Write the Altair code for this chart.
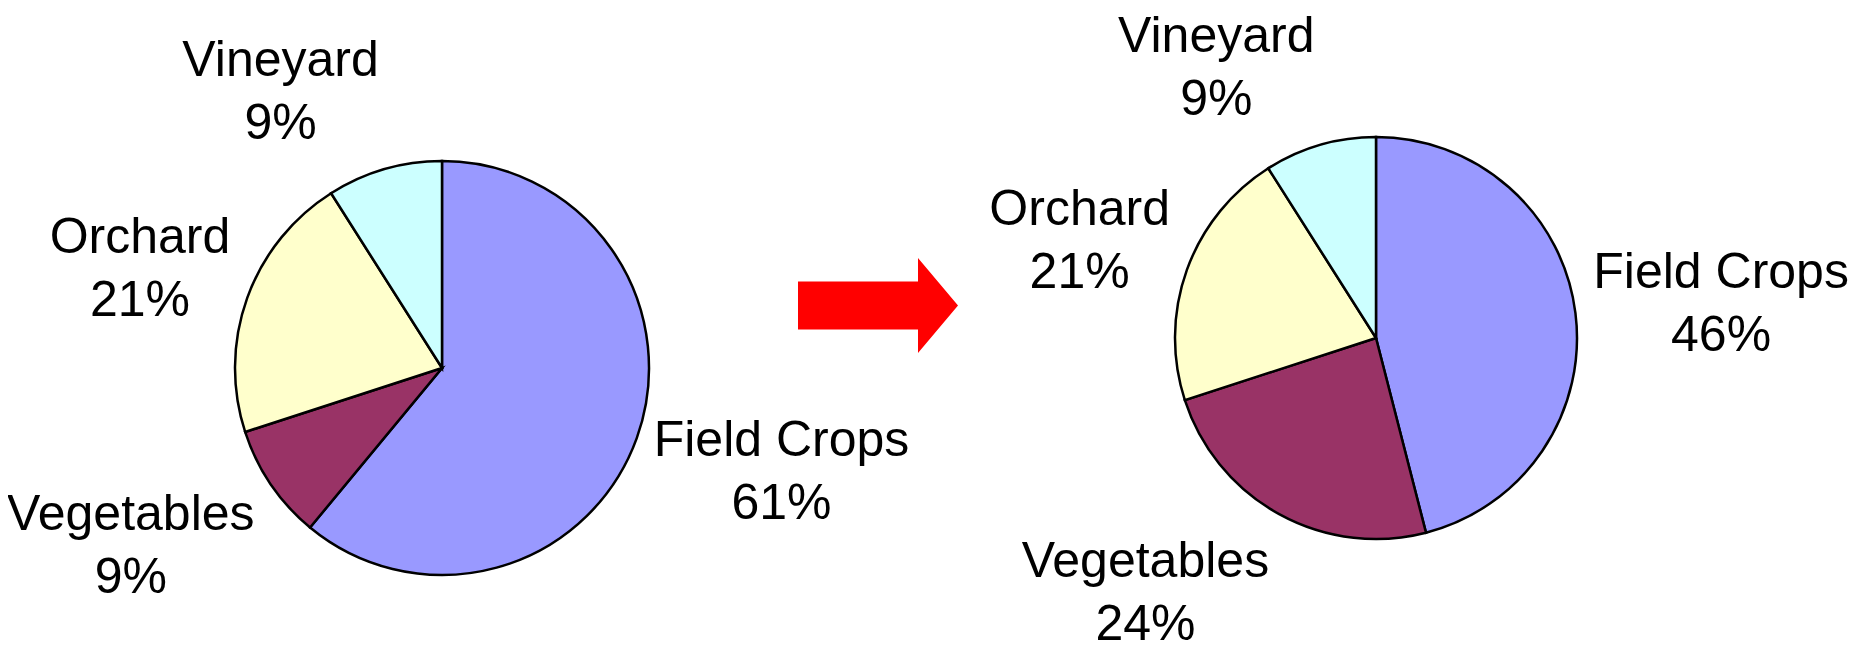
import math
import altair as alt
import pandas as pd

# ---- data ----
categories = ["Field Crops", "Vegetables", "Orchard", "Vineyard"]
before_values = [61, 9, 21, 9]
after_values = [46, 24, 21, 9]
colors = ["#9999FF", "#993366", "#FFFFCC", "#CCFFFF"]

# ---- layout (pixels inside the plot area) ----
PIES = {
    "before": dict(cx=434, cy=360, r=207),
    "after": dict(cx=1368, cy=330, r=201),
}
GAP = 18
EXTRA_V = 13
FONT = "Liberation Sans"
FONT_SIZE = 50
LINE_H = 63
CAP = 0.716 * FONT_SIZE
BLOCK_H = LINE_H + CAP
ARROW = "M -1 -0.3 L 0.5 -0.3 L 0.5 -0.594 L 1 0 L 0.5 0.594 L 0.5 0.3 L -1 0.3 Z"

# Arial / Liberation Sans advance widths (per 1000 em) to size label blocks
W = {" ": 278, "%": 889, "F": 611, "C": 722, "O": 778, "V": 667, "a": 556,
     "b": 556, "c": 500, "d": 556, "e": 556, "g": 556, "h": 556, "i": 222,
     "l": 222, "n": 556, "o": 556, "p": 556, "r": 333, "s": 500, "t": 278,
     "y": 500}


def text_w(s):
    return sum(W.get(ch, 556) for ch in s) / 1000 * FONT_SIZE


rows = []
for pie, vals in (("before", before_values), ("after", after_values)):
    cum = 0
    for i, (c, v) in enumerate(zip(categories, vals)):
        mid = cum + v / 2
        cum += v
        ang = mid / 100 * 2 * math.pi
        s, co = math.sin(ang), math.cos(ang)
        bw = max(text_w(c), text_w(f"{v}%"))
        hx = 1 if s > 0 else -1
        vy = max(-1.0, min(1.0, -1.5 * co))
        extra = -co * EXTRA_V if abs(co) >= 0.5 else 0.0
        dx = hx * bw / 2
        dy = vy * BLOCK_H / 2 - BLOCK_H / 2 + CAP + extra
        rows.append(dict(pie=pie, category=c, value=v, idx=i, mid=mid,
                         dx=dx, dy=dy))
df = pd.DataFrame(rows)

theta_scale = alt.Scale(domain=[0, 100])
base = alt.Chart(df)
layers = []
for pie, p in PIES.items():
    arc = base.transform_filter(alt.datum.pie == pie).mark_arc(
        radius=p["r"], stroke="black", strokeWidth=2.5
    ).encode(
        theta=alt.Theta("value:Q", stack=True, scale=theta_scale),
        color=alt.Color("category:N",
                        scale=alt.Scale(domain=categories, range=colors),
                        legend=None),
        order=alt.Order("idx:Q"),
        x=alt.value(p["cx"]),
        y=alt.value(p["cy"]),
    )
    layers.append(arc)

    for _, row in df[df.pie == pie].iterrows():
        txt = base.transform_filter(
            (alt.datum.pie == pie) & (alt.datum.category == row["category"])
        ).transform_calculate(
            lbl="[datum.category, datum.value + '%']"
        ).mark_text(
            radius=p["r"] + GAP, align="center", baseline="alphabetic",
            dx=float(row["dx"]), dy=float(row["dy"]), font=FONT,
            fontSize=FONT_SIZE, lineHeight=LINE_H, color="black"
        ).encode(
            theta=alt.Theta("mid:Q", stack=False, scale=theta_scale),
            text=alt.Text("lbl:N"),
            x=alt.value(p["cx"]),
            y=alt.value(p["cy"]),
        )
        layers.append(txt)

arrow = alt.Chart(alt.Data(values=[{"a": 1}])).mark_point(
    shape=ARROW, size=25600, filled=True, color="#FF0000", opacity=1, strokeWidth=0
).encode(x=alt.value(870), y=alt.value(297.5))
layers.append(arrow)

chart = alt.layer(*layers).properties(
    width=1844, height=646, padding=0, autosize="none", background="white"
).configure_view(strokeWidth=0)

chart.save("out.html", embed_options={"renderer": "svg", "actions": False})
